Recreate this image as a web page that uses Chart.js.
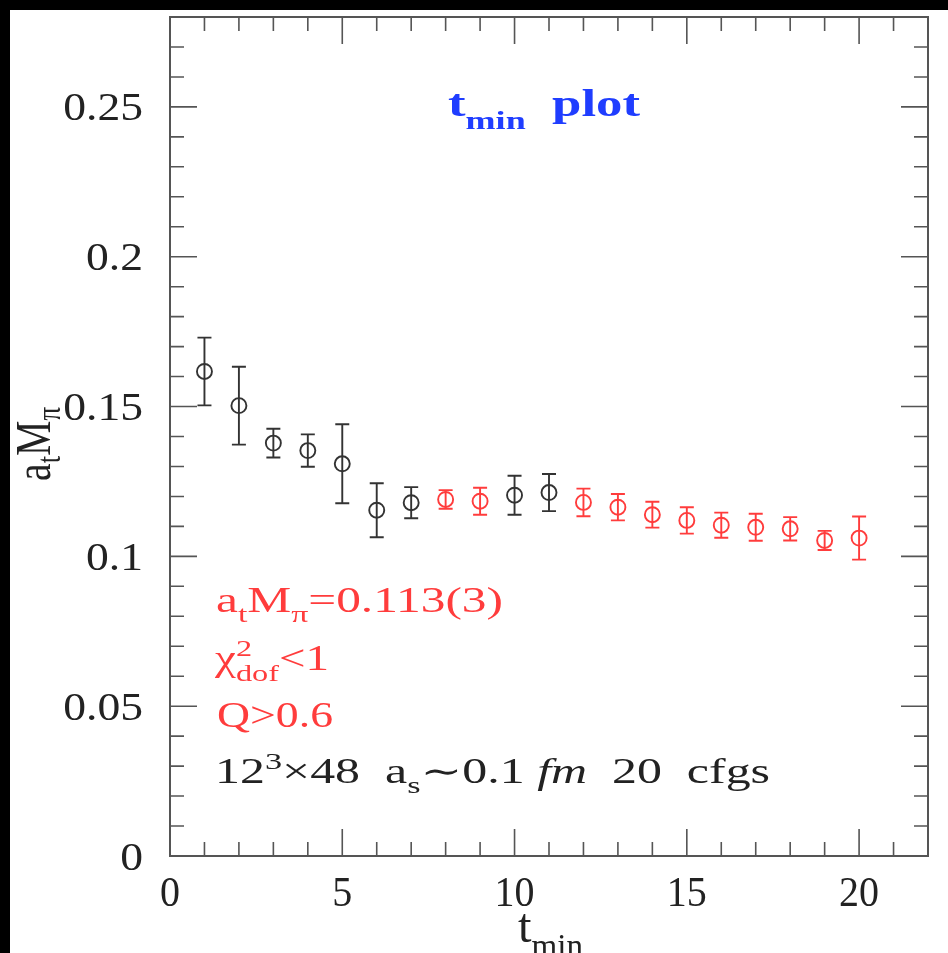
<!DOCTYPE html>
<html>
<head>
<meta charset="utf-8">
<title>t_min plot</title>
<script src="https://cdn.jsdelivr.net/npm/chart.js@4.4.1/dist/chart.umd.min.js"></script>
<style>
  html, body { margin: 0; padding: 0; background: #000; }
  canvas { display: block; }
</style>
</head>
<body>
<canvas id="tminChart" width="948" height="953"></canvas>
<script>
// effective mass vs t_min
const tminValues = [1, 2, 3, 4, 5, 6, 7, 8, 9, 10, 11, 12, 13, 14, 15, 16, 17, 18, 19, 20];
const massValues = [0.1617, 0.1503, 0.1378, 0.1353, 0.1309, 0.1154, 0.1179, 0.1190, 0.1184, 0.1204,
                    0.1213, 0.1180, 0.1164, 0.1139, 0.1120, 0.1104, 0.1097, 0.1092, 0.1053, 0.1061];
const massErrors = [0.0113, 0.0130, 0.0048, 0.0054, 0.0132, 0.0090, 0.0052, 0.0031, 0.0045, 0.0065,
                    0.0062, 0.0046, 0.0044, 0.0043, 0.0044, 0.0042, 0.0045, 0.0039, 0.0032, 0.0072];
// t_min values used in the fit (drawn red)
const fitWindow = [8, 9, 12, 13, 14, 15, 16, 17, 18, 19, 20];

const xTickValues = [0, 5, 10, 15, 20];
const yTickValues = [0, 0.05, 0.1, 0.15, 0.2, 0.25];

const BLACK = '#333333';
const RED = '#ff3c3c';
const FONT = '"Liberation Serif", "DejaVu Serif", serif';

const points = tminValues.map((t, i) => ({ x: t, y: massValues[i], err: massErrors[i] }));

// text with sub/superscripts, stretched to a given width
function drawRich(ctx, parts, o) {
  const size = o.size;
  const small = Math.round(size * 0.68);
  const fontFor = (k) => (k === 'it' ? 'italic ' : '') + (o.bold ? 'bold ' : '') +
    (k === 'sub' || k === 'sup' || k === 'sup0' ? small : size) + 'px ' + FONT;
  let natural = 0;
  parts.forEach(([t, k]) => {
    ctx.font = fontFor(k);
    if (k !== 'sup0') natural += ctx.measureText(t).width;
  });
  ctx.save();
  ctx.fillStyle = o.color;
  ctx.textAlign = 'left';
  ctx.textBaseline = 'alphabetic';
  ctx.translate(o.x, o.y);
  if (o.rotate) ctx.rotate(o.rotate);
  ctx.scale(o.width ? o.width / natural : 1, o.sy || 1);
  let cx = 0;
  parts.forEach(([t, k]) => {
    ctx.font = fontFor(k);
    let dy = 0;
    if (k === 'sub') dy = size * (o.subDy || 0.28);
    if (k === 'sup' || k === 'sup0') dy = -size * 0.4;
    ctx.fillText(t, cx, dy);
    if (k !== 'sup0') cx += ctx.measureText(t).width;
  });
  ctx.restore();
}

const framePlugin = {
  id: 'frame',
  beforeDraw(chart) {
    const ctx = chart.ctx;
    ctx.save();
    ctx.fillStyle = '#000';
    ctx.fillRect(0, 0, chart.width, chart.height);
    ctx.fillStyle = '#fff';
    ctx.fillRect(10, 10, chart.width - 10, chart.height - 10);
    ctx.restore();
  },
  beforeDatasetsDraw(chart) {
    const { ctx, chartArea: a, scales: { x, y } } = chart;
    ctx.save();
    // box and inward ticks on all four sides
    ctx.strokeStyle = '#555';
    ctx.lineWidth = 1.6;
    ctx.beginPath();
    for (let i = 0; i <= 22; i++) {
      const px = x.getPixelForValue(i);
      const len = i % 5 === 0 ? 27 : 14;
      ctx.moveTo(px, a.bottom); ctx.lineTo(px, a.bottom - len);
      ctx.moveTo(px, a.top); ctx.lineTo(px, a.top + len);
    }
    for (let i = 0; i <= 28; i++) {
      const py = y.getPixelForValue(i / 100);
      const len = i % 5 === 0 ? 27 : 14;
      ctx.moveTo(a.left, py); ctx.lineTo(a.left + len, py);
      ctx.moveTo(a.right, py); ctx.lineTo(a.right - len, py);
    }
    ctx.stroke();
    ctx.lineWidth = 2;
    ctx.strokeRect(a.left, a.top, a.right - a.left, a.bottom - a.top);

    // error bars
    chart.data.datasets.forEach((ds) => {
      ctx.strokeStyle = ds.borderColor;
      ctx.lineWidth = 1.9;
      ds.data.forEach((p) => {
        const px = x.getPixelForValue(p.x);
        const hi = y.getPixelForValue(p.y + p.err);
        const lo = y.getPixelForValue(p.y - p.err);
        ctx.beginPath();
        ctx.moveTo(px, hi); ctx.lineTo(px, lo);
        ctx.moveTo(px - 7, hi); ctx.lineTo(px + 7, hi);
        ctx.moveTo(px - 7, lo); ctx.lineTo(px + 7, lo);
        ctx.stroke();
      });
    });
    ctx.restore();
  },
  afterDraw(chart) {
    const { ctx, chartArea: a, scales: { x, y } } = chart;
    ctx.save();
    ctx.fillStyle = '#222';
    ctx.font = '40px ' + FONT;
    // tick labels
    y.ticks.forEach((t) => {
      const py = y.getPixelForValue(t.value);
      ctx.save();
      ctx.translate(a.left - 27, py + 13.5);
      ctx.scale(1.14, 1);
      ctx.textAlign = 'right';
      ctx.fillText(String(+t.value.toFixed(2)), 0, 0);
      ctx.restore();
    });
    x.ticks.forEach((t) => {
      const px = x.getPixelForValue(t.value);
      ctx.save();
      ctx.translate(px, a.bottom + 50);
      ctx.scale(1, 1.05);
      ctx.textAlign = 'center';
      ctx.fillText(String(t.value), 0, 0);
      ctx.restore();
    });
    ctx.restore();

    // axis titles
    drawRich(ctx, [['a', ''], ['t', 'sub'], ['M', ''], ['π', 'sub']],
      { x: 50, y: 481, size: 40, color: '#222', width: 74, sy: 1.25, rotate: -Math.PI / 2, subDy: 0.2 });
    drawRich(ctx, [['t', ''], ['min', 'sub']],
      { x: 518, y: 942, size: 44, color: '#222', width: 65, sy: 1.1, subDy: 0.3 });

    // title and fit results
    drawRich(ctx, [['t', ''], ['min', 'sub'], ['  plot', '']],
      { x: 448, y: 116, size: 38, bold: true, color: '#1f3dff', width: 192, subDy: 0.34 });
    drawRich(ctx, [['a', ''], ['t', 'sub'], ['M', ''], ['π', 'sub'], ['=0.113(3)', '']],
      { x: 216, y: 612, size: 35, color: RED, width: 287 });
    drawRich(ctx, [['χ', ''], ['2', 'sup0'], ['dof', 'sub'], ['<1', '']],
      { x: 215, y: 670, size: 35, color: RED, width: 114, subDy: 0.3 });
    drawRich(ctx, [['Q>0.6', '']],
      { x: 217, y: 727, size: 35, color: RED, width: 116 });
    drawRich(ctx, [['12', ''], ['3', 'sup'], ['×48  a', ''], ['s', 'sub'], ['∼0.1 ', ''], ['fm', 'it'], ['  20  cfgs', '']],
      { x: 215, y: 783, size: 35, color: '#222', width: 555 });
  }
};

new Chart(document.getElementById('tminChart'), {
  type: 'scatter',
  data: {
    datasets: [
      {
        label: 'outside fit',
        data: points.filter((p) => !fitWindow.includes(p.x)),
        borderColor: BLACK,
        backgroundColor: 'transparent',
        pointRadius: 7.5,
        pointBorderWidth: 1.9
      },
      {
        label: 'fit window',
        data: points.filter((p) => fitWindow.includes(p.x)),
        borderColor: RED,
        backgroundColor: 'transparent',
        pointRadius: 7.5,
        pointBorderWidth: 1.9
      }
    ]
  },
  options: {
    responsive: false,
    animation: false,
    layout: { padding: { top: 17, right: 20, left: 0, bottom: 0 } },
    plugins: { legend: { display: false }, tooltip: { enabled: false } },
    scales: {
      x: {
        type: 'linear',
        min: 0,
        max: 22,
        grid: { display: false, drawTicks: false },
        border: { display: false },
        ticks: { display: false },
        afterBuildTicks: (s) => { s.ticks = xTickValues.map((v) => ({ value: v })); },
        afterFit: (s) => { s.height = 97; }
      },
      y: {
        type: 'linear',
        min: 0,
        max: 0.28,
        grid: { display: false, drawTicks: false },
        border: { display: false },
        ticks: { display: false },
        afterBuildTicks: (s) => { s.ticks = yTickValues.map((v) => ({ value: v })); },
        afterFit: (s) => { s.width = 170; }
      }
    }
  },
  plugins: [framePlugin]
});
</script>
</body>
</html>
